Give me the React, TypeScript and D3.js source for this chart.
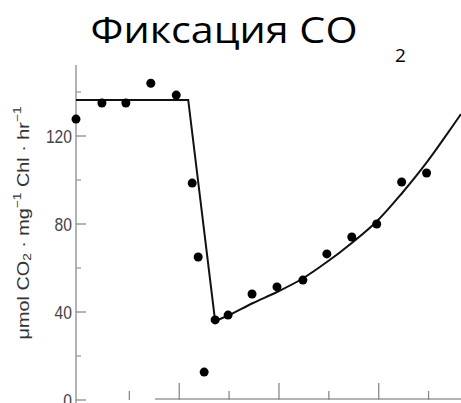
import React from "react";
import * as d3 from "d3";

const pointX = [-0.07, 0.45, 0.93, 1.43, 1.94, 2.26, 2.38, 2.5, 2.72, 2.98, 3.46, 3.96, 4.48, 4.96, 5.46, 5.96, 6.46, 6.96];
const pointY = [127.7, 135, 135, 144, 138.6, 98.6, 65, 12.7, 36.4, 38.6, 48.2, 51.4, 54.5, 66.4, 74.1, 80, 99.1, 103.2];

const stepX = [-0.07, 2.18, 2.72];
const stepY = [136.4, 136.4, 35.9];

const curveX = [2.72, 2.98, 3.48, 3.96, 4.46, 4.96, 5.46, 5.97, 6.47, 6.97, 7.65];
const curveY = [35.9, 38.4, 44.1, 49.1, 55.0, 62.7, 71.4, 81.4, 94.1, 108.2, 130.0];

const yMajorTicks = [0, 40, 80, 120];
const yMinorTicks = [20, 60, 100, 140];
const xTicks = [1, 2, 3, 4, 5, 6, 7];

const W = 461;
const H = 403;

export default function App() {
  const x = d3.scaleLinear().domain([-0.07, 7.65]).range([76, 461]);
  const y = d3.scaleLinear().domain([0, 40]).range([400, 312]);

  const stepData = stepX.map((v, i) => [v, stepY[i]] as [number, number]);
  const curveData = curveX.map((v, i) => [v, curveY[i]] as [number, number]);
  const lin = d3.line<[number, number]>().x((d) => x(d[0])).y((d) => y(d[1]));
  const smooth = d3
    .line<[number, number]>()
    .x((d) => x(d[0]))
    .y((d) => y(d[1]))
    .curve(d3.curveCatmullRom.alpha(0.5));

  const axisColor = "#8a8a8a";
  const labelFont = "'Liberation Sans', Arial, sans-serif";

  return (
    <div style={{ position: "fixed", left: 0, top: 0, width: W, height: H, background: "#fff" }}>
      <svg width={W} height={H} style={{ display: "block" }}>
        <rect x={0} y={0} width={W} height={H} fill="#fff" />
        {/* Title */}
        <text
          x={90.5}
          y={43}
          fontFamily="'Open Sans', 'Noto Sans', sans-serif"
          fontSize={37}
          fill="#000"
          textLength={267}
          lengthAdjust="spacingAndGlyphs"
        >
          Фиксация CO
        </text>
        <text x={395} y={62} fontFamily="'Open Sans', 'Noto Sans', sans-serif" fontSize={19} fill="#000">
          2
        </text>

        {/* Y axis */}
        <line x1={x(-0.07)} x2={x(-0.07)} y1={65} y2={H} stroke={axisColor} strokeWidth={1.3} />
        {yMajorTicks.map((t) => (
          <g key={"ym" + t}>
            <line x1={x(-0.07)} x2={x(-0.07) + 10} y1={y(t)} y2={y(t)} stroke={axisColor} strokeWidth={1.3} />
            <text
              x={72}
              y={y(t) + 7}
              textAnchor="end"
              fontFamily={labelFont}
              fontSize={19}
              fill="#444"
              textLength={String(t).length * 8.7}
              lengthAdjust="spacingAndGlyphs"
            >
              {t}
            </text>
          </g>
        ))}
        {yMinorTicks.map((t) => (
          <line key={"yn" + t} x1={x(-0.07)} x2={x(-0.07) + 5} y1={y(t)} y2={y(t)} stroke={axisColor} strokeWidth={1.1} />
        ))}

        {/* X axis */}
        <line x1={155} x2={W} y1={y(0) - 1} y2={y(0) - 1} stroke="#9a9a9a" strokeWidth={1.5} />
        {xTicks.map((t) => (
          <line
            key={"xt" + t}
            x1={x(t)}
            x2={x(t)}
            y1={y(0)}
            y2={y(0) - (t % 2 === 0 ? 17 : 9)}
            stroke={axisColor}
            strokeWidth={1.3}
          />
        ))}

        {/* Y axis label */}
        <text
          transform="translate(23,223) rotate(-90)"
          textAnchor="middle"
          dominantBaseline="central"
          fontFamily={labelFont}
          fontSize={16}
          fill="#333"
          textLength={233}
          lengthAdjust="spacingAndGlyphs"
        >
          <tspan>μmol CO</tspan>
          <tspan fontSize={11} dy={4}>2</tspan>
          <tspan dy={-4}> · mg</tspan>
          <tspan fontSize={11} dy={-6}>−1</tspan>
          <tspan dy={6}> Chl · hr</tspan>
          <tspan fontSize={11} dy={-6}>−1</tspan>
        </text>

        {/* Fit line */}
        <path d={lin(stepData) || ""} fill="none" stroke="#111" strokeWidth={2} />
        <path d={smooth(curveData) || ""} fill="none" stroke="#111" strokeWidth={2} />

        {/* Points */}
        {pointX.map((v, i) => (
          <circle key={"p" + i} cx={x(v)} cy={y(pointY[i])} r={4.5} fill="#000" />
        ))}
      </svg>
    </div>
  );
}
